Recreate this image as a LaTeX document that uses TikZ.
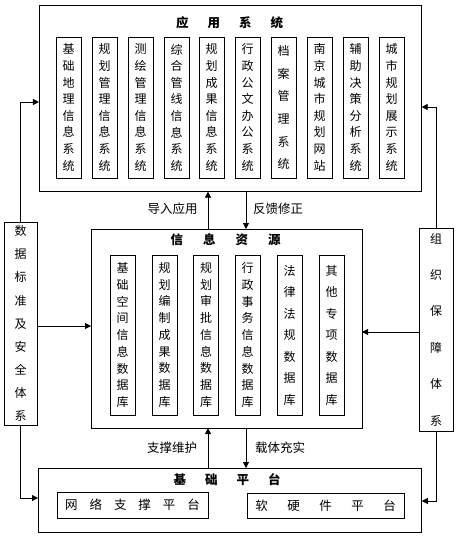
\documentclass[tikz,border=0pt]{standalone}
\usepackage{fontspec}
\newfontfamily\cjk{Noto Sans CJK SC}
\usetikzlibrary{arrows.meta}
\begin{document}
\begin{tikzpicture}[x=1pt,y=-1pt,
  every node/.style={inner sep=0pt, outer sep=0pt},
  frame/.style={draw, line width=0.8pt},
  vbox/.style={frame, minimum width=25pt, align=center, font=\cjk\fontsize{12}{#1}\selectfont},
  ttl/.style={font=\cjk\bfseries\fontsize{12.5}{14}\selectfont},
  lbl/.style={font=\cjk\fontsize{12.5}{14}\selectfont},
  arr/.style={line width=0.8pt, -{Triangle[length=6pt,width=6pt]}},
  ln/.style={line width=0.8pt}]
\useasboundingbox (0,0) rectangle (463,539);
% main frames
\node[frame, minimum width=382.7pt, minimum height=186.7pt] (app) at (230.3,98.3) {};
\node[frame, minimum width=271pt, minimum height=199pt] (info) at (226.5,328.5) {};
\node[frame, minimum width=383.7pt, minimum height=64pt] (base) at (229.9,500) {};
\node[frame, minimum width=33pt, minimum height=203pt, align=center, font=\cjk\fontsize{12}{23.1}\selectfont] (std) at (20.5,323.5) {数\\据\\标\\准\\及\\安\\全\\体\\系};
\node[frame, minimum width=34pt, minimum height=203pt, align=center, font=\cjk\fontsize{12}{36.4}\selectfont] (org) at (436,329.5) {组\\织\\保\\障\\体\\系};
% titles
\node[ttl] (t1) at (229.5,23) {应\hspace{19pt}用\hspace{19pt}系\hspace{19pt}统};
\node[ttl] (t2) at (225.5,240) {信\hspace{20pt}息\hspace{20pt}资\hspace{20pt}源};
\node[ttl] (t3) at (227,480) {基\hspace{19pt}础\hspace{19pt}平\hspace{19pt}台};
% app boxes
\begin{scope}[every node/.append style={minimum height=141pt}]
\node[vbox=16.6] (a1) at (68.5,107.5) {基\\础\\地\\理\\信\\息\\系\\统};
\node[vbox=16.6] (a2) at (104.5,107.5) {规\\划\\管\\理\\信\\息\\系\\统};
\node[vbox=16.6] (a3) at (140.5,107.5) {测\\绘\\管\\理\\信\\息\\系\\统};
\node[vbox=16.6] (a4) at (176.5,107.5) {综\\合\\管\\线\\信\\息\\系\\统};
\node[vbox=16.6] (a5) at (211.5,107.5) {规\\划\\成\\果\\信\\息\\系\\统};
\node[vbox=16.6] (a6) at (247.5,107.5) {行\\政\\公\\文\\办\\公\\系\\统};
\node[vbox=22.7] (a7) at (283.5,107.5) {档\\案\\管\\理\\系\\统};
\node[vbox=16.6] (a8) at (319.5,107.5) {南\\京\\城\\市\\规\\划\\网\\站};
\node[vbox=16.6] (a9) at (355.5,107.5) {辅\\助\\决\\策\\分\\析\\系\\统};
\node[vbox=16.6] (a10) at (391.5,107.5) {城\\市\\规\\划\\展\\示\\系\\统};
\end{scope}
% info boxes
\begin{scope}[every node/.append style={minimum height=160pt}]
\node[vbox=16.75] (i1) at (122.5,335) {基\\础\\空\\间\\信\\息\\数\\据\\库};
\node[vbox=16.75] (i2) at (164.5,335) {规\\划\\编\\制\\成\\果\\数\\据\\库};
\node[vbox=16.75] (i3) at (206,335) {规\\划\\审\\批\\信\\息\\数\\据\\库};
\node[vbox=16.75] (i4) at (247.5,335) {行\\政\\事\\务\\信\\息\\数\\据\\库};
\node[vbox=21.5] (i5) at (289.5,335) {法\\律\\法\\规\\数\\据\\库};
\node[vbox=21.5] (i6) at (331.5,335) {其\\他\\专\\项\\数\\据\\库};
\end{scope}
% base boxes
\node[frame, minimum width=151pt, minimum height=26pt, lbl] (net) at (132.5,505) {网\hspace{12pt}络\hspace{12pt}支\hspace{12pt}撑\hspace{12pt}平\hspace{12pt}台};
\node[frame, minimum width=157pt, minimum height=25pt, lbl] (sw) at (325.5,505.5) {软\hspace{19.5pt}硬\hspace{19.5pt}件\hspace{19.5pt}平\hspace{19.5pt}台};
% helper coordinates
\coordinate (ua) at (208,0);
\coordinate (da) at (246,0);
\coordinate (lt) at (0,102);
\coordinate (rt) at (0,107);
\coordinate (lm) at (0,326);
\coordinate (rm) at (0,332);
\coordinate (lb) at (0,498);
\coordinate (rb) at (0,501);
% vertical connectors
\draw[arr] (info.north -| ua) -- (app.south -| ua);
\draw[arr] (app.south -| da) -- (info.north -| da);
\draw[arr] (base.north -| ua) -- (info.south -| ua);
\draw[arr] (info.south -| da) -- (base.north -| da);
\node[lbl] (l1) at (172.5,209) {导入应用};
\node[lbl] (l2) at (278,209) {反馈修正};
\node[lbl] (l3) at (172,448) {支撑维护};
\node[lbl] (l4) at (280,448) {载体充实};
% side connectors
\draw[arr] (std.north) |- (app.west |- lt);
\draw[arr] (org.north) |- (app.east |- rt);
\draw[arr] (std.east |- lm) -- (info.west |- lm);
\draw[arr] (org.west |- rm) -- (info.east |- rm);
\draw[arr] (std.south) |- (base.west |- lb);
\draw[arr] (org.south) |- (base.east |- rb);
\end{tikzpicture}
\end{document}
